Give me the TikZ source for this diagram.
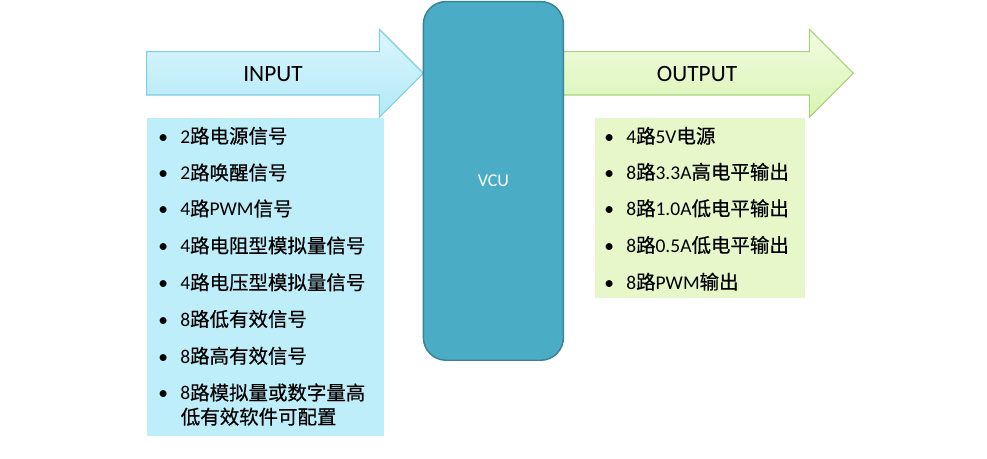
\documentclass[tikz,border=0pt]{standalone}
\usepackage{fontspec}
\setmainfont{Carlito}
\newfontfamily\cjk[FakeBold=0.5]{Noto Sans CJK SC}
\newcommand\zh[1]{{\cjk #1}}
\newcommand\bul{\makebox[16.5pt][l]{\textbullet}}
\usepackage{tikz}
\definecolor{inTop}{HTML}{DCF6FD}
\definecolor{inBot}{HTML}{B2E9F8}
\definecolor{inLine}{HTML}{7FCDE3}
\definecolor{inBox}{HTML}{BFEEFB}
\definecolor{vcuFill}{HTML}{4BACC6}
\definecolor{vcuLine}{HTML}{3A8296}
\definecolor{outTop}{HTML}{F1FCE2}
\definecolor{outBot}{HTML}{D9F4B3}
\definecolor{outLine}{HTML}{A6D47A}
\definecolor{outBox}{HTML}{E6F8C9}

\begin{document}
\begin{tikzpicture}[x=0.75pt, y=-0.75pt,
    item/.style={anchor=west, inner sep=0pt, text=black, font=\fontsize{14.6}{17}\selectfont},
    head/.style={inner sep=0pt, text=black, font=\fontsize{17.5}{20}\selectfont},
    vcu/.style={draw=vcuLine, fill=vcuFill, line width=1.1pt, rounded corners=17pt,
        minimum width=105pt, minimum height=269pt, text=white, font=\fontsize{13.5}{16}\selectfont}]
            \useasboundingbox (0,0) rectangle (987,458);
            % Boxes
            \fill[inBox] (146.7,118.3) rectangle (383.5,435.5);
            \fill[outBox] (595,118.3) rectangle (805,298);
            % Arrows
            \shade[top color=inTop, bottom color=inBot, draw=inLine, line width=0.8pt]
                (146.7,51.7) -- (379.3,51.7) -- (379.3,29.3) -- (423.3,73.3)
                -- (379.3,117.3) -- (379.3,95) -- (146.7,95) -- cycle;
            \shade[top color=outTop, bottom color=outBot, draw=outLine, line width=0.8pt]
                (563.3,51.7) -- (809.3,51.7) -- (809.3,29.3) -- (853.3,73.3)
                -- (809.3,117.3) -- (809.3,95) -- (563.3,95) -- cycle;
            % Nodes
            \node[vcu] (vcu) at (493.4,180.9) {VCU};
            \node[head] (input) at (273,74) {INPUT};
            \node[head] (output) at (697,74) {OUTPUT};
            % Input list
            \node[item] (in1) at (158,135.8) {\bul 2\zh{路电源信号}};
            \node[item] (in2) at (158,172.5) {\bul 2\zh{路唤醒信号}};
            \node[item] (in3) at (158,208.5) {\bul 4\zh{路}PWM\zh{信号}};
            \node[item] (in4) at (158,245.5) {\bul 4\zh{路电阻型模拟量信号}};
            \node[item] (in5) at (158,282.3) {\bul 4\zh{路电压型模拟量信号}};
            \node[item] (in6) at (158,319) {\bul 8\zh{路低有效信号}};
            \node[item] (in7) at (158,355.8) {\bul 8\zh{路高有效信号}};
            \node[item] (in8) at (158,392.5) {\bul 8\zh{路模拟量或数字量高}};
            \node[item] (in8b) at (180.5,416.7) {\zh{低有效软件可配置}};
            % Output list
            \node[item] (out1) at (604,135.8) {\bul 4\zh{路}5V\zh{电源}};
            \node[item] (out2) at (604,171.8) {\bul 8\zh{路}3.3A\zh{高电平输出}};
            \node[item] (out3) at (604,208.3) {\bul 8\zh{路}1.0A\zh{低电平输出}};
            \node[item] (out4) at (604,245) {\bul 8\zh{路}0.5A\zh{低电平输出}};
            \node[item] (out5) at (604,281.7) {\bul 8\zh{路}PWM\zh{输出}};
        \end{tikzpicture}
\end{document}
